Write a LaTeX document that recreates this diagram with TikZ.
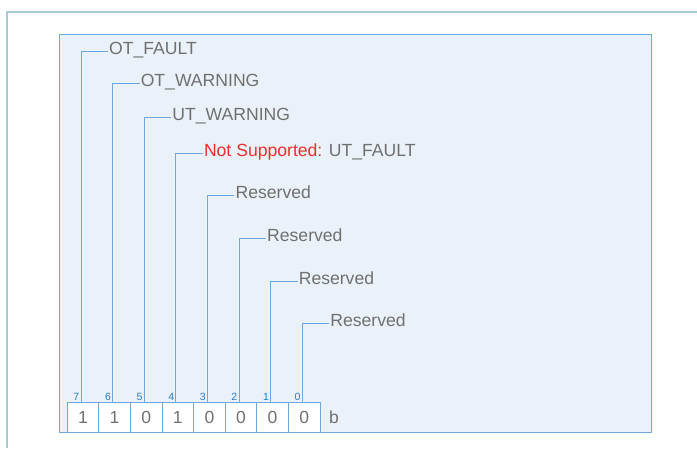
\documentclass[tikz,border=0pt]{standalone}
\usepackage{fontspec}
\setmainfont{Liberation Sans}
\definecolor{frameblue}{HTML}{A9C9DA}
\definecolor{boxblue}{HTML}{6FA8DC}
\definecolor{boxfill}{HTML}{EAF1F8}
\definecolor{txtgray}{HTML}{707070}
\definecolor{numblue}{HTML}{2A7CC4}
\definecolor{nsred}{HTML}{E8312F}
\begin{document}
\begin{tikzpicture}[x=1pt,y=-1pt,
  cell/.style={draw=boxblue,fill=white,line width=1pt,minimum width=31.6pt,minimum height=30pt,inner sep=0pt,anchor=north west,font=\fontsize{17.5}{18}\selectfont,text=txtgray},
  lbl/.style={anchor=west,inner sep=1pt,text height=0.716em,text depth=0pt,font=\fontsize{17.6}{18}\selectfont,text=txtgray},
  bitnum/.style={anchor=south east,inner sep=0.5pt,font=\fontsize{10.5}{11}\selectfont,text=numblue},
  wire/.style={draw=boxblue,line width=1pt}]
\useasboundingbox (0,0) rectangle (697,448);
\draw[frameblue,line width=1.2pt] (7,448) -- (7,12) -- (697,12);
\draw[boxblue,fill=boxfill,line width=1pt] (59,34) rectangle (651,432);
% cells
\foreach \b/\v [count=\k from 0] in {7/1,6/1,5/0,4/1,3/0,2/0,1/0,0/0}{
  \node[cell] (c\b) at ({66.7+\k*31.6},402) {\v};
}
\node[anchor=west,inner sep=0pt,font=\fontsize{17.5}{18}\selectfont,text=txtgray] (bsuf) at (329,417) {b};
% labels
\foreach \b/\y/\t [count=\k from 0] in {7/51/OT\_FAULT,6/83/OT\_WARNING,5/117/UT\_WARNING,4/153/{\textcolor{nsred}{Not Supported:} UT\_FAULT},3/195/Reserved,2/238/Reserved,1/281/Reserved,0/323/Reserved}{
  \coordinate (k\b) at ({81+\k*31.6},\y);
  \coordinate (bot\b) at ({81+\k*31.6},402);
  \node[lbl] (l\b) at ({81+\k*31.6+27},\y) {\t};
  \draw[wire] (l\b.west) -- (k\b) -- (bot\b);
  \node[bitnum] (n\b) at ({80+\k*31.6},401) {\b};
}
\end{tikzpicture}
\end{document}
